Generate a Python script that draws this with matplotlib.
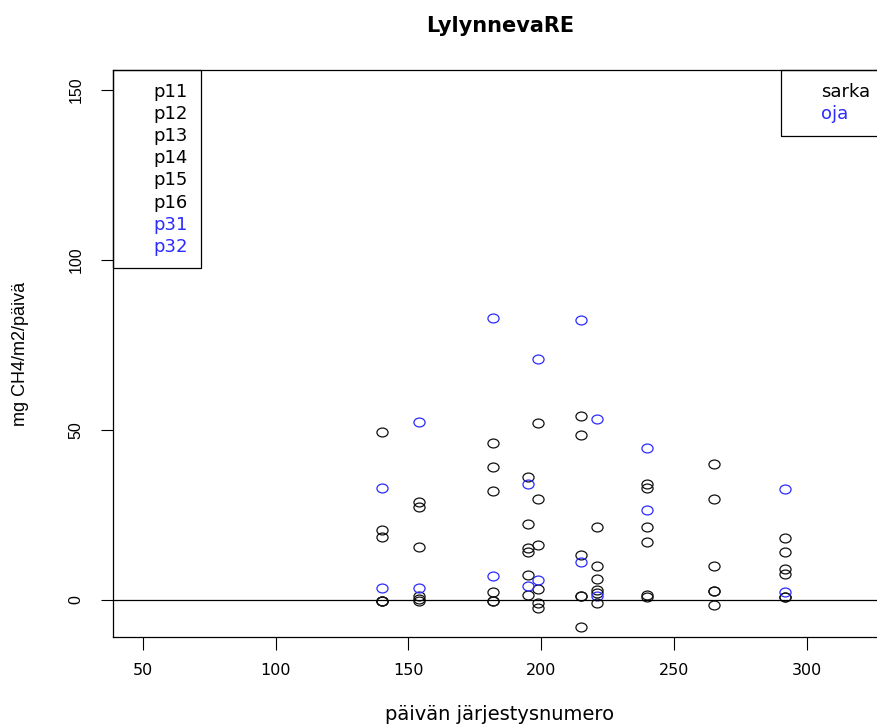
import matplotlib
matplotlib.use("Agg")
import matplotlib.pyplot as plt
from matplotlib.patches import Rectangle
from matplotlib.path import Path
from matplotlib.transforms import Affine2D

plt.rcParams['font.family'] = ['DejaVu Sans']
RSANS = ['Liberation Sans', 'DejaVu Sans']

# measurement days (day of year)
days = [140, 154, 182, 195, 199, 215, 221, 240, 265, 292]

# field plots p11..p16 (black), one list per day
sarka = [
    [49.3, 20.6, 18.4, -0.3, -0.3, -0.3],
    [28.8, 27.3, 15.5, 1.3, 0.3, -0.3],
    [46.3, 39.2, 32.0, 2.4, -0.4, -0.4],
    [36.3, 22.4, 15.3, 14.2, 7.2, 1.4],
    [52.0, 29.8, 16.3, 3.1, -1.0, -2.5],
    [54.2, 48.5, 13.2, 1.3, 1.3, -8.1],
    [21.5, 9.9, 6.2, 2.9, 2.0, -1.0],
    [34.1, 32.8, 21.5, 17.1, 1.5, 1.0],
    [40.0, 29.7, 10.0, 2.7, 2.7, -1.4],
    [18.3, 14.0, 9.0, 7.7, 0.8, 0.8],
]

# ditch plots p31, p32 (blue)
oja = [
    [32.8, 3.4],
    [52.4, 3.4],
    [82.8, 6.9],
    [34.0, 4.2],
    [70.8, 5.8],
    [82.5, 11.1],
    [53.1, 1.2],
    [44.8, 26.5],
    [],
    [32.5, 2.2],
]

plots = ['p11', 'p12', 'p13', 'p14', 'p15', 'p16', 'p31', 'p32']
BLUE = '#2b2bff'
plot_colors = ['black'] * 6 + [BLUE] * 2

# slightly flattened open circle
ring = Path.unit_circle().transformed(Affine2D().scale(1.25, 1.0))

W, H = 878, 725
fig = plt.figure(figsize=(W / 100, H / 100), dpi=100)
ax = fig.add_axes([113 / W, 1 - 637 / H, (916 - 113) / W, (637 - 70) / H])

for d, vals in zip(days, sarka):
    ax.plot([d] * len(vals), vals, ls='none', marker=ring, mfc='none',
            mec='#111111', ms=8, mew=0.9)
for d, vals in zip(days, oja):
    ax.plot([d] * len(vals), vals, ls='none', marker=ring, mfc='none',
            mec=BLUE, ms=8, mew=0.9)

ax.axhline(0, color='black', lw=0.9)

ax.set_xlim(38.8, 341.2)
ax.set_ylim(-10.9, 155.9)
ax.set_xticks([50, 100, 150, 200, 250, 300])
ax.set_yticks([0, 50, 100, 150])
ax.tick_params(length=9, width=0.8)
ax.tick_params(axis='x', pad=10, labelsize=11.5)
ax.tick_params(axis='y', pad=12)
for lab in ax.get_yticklabels():
    lab.set_rotation(90)
    lab.set_va('center')
    lab.set_family(RSANS)
    lab.set_fontsize(11.5)
for s in ax.spines.values():
    s.set_linewidth(0.9)

def px(x, y):
    return x / W, 1 - y / H

# title and axis labels
fig.text(*px(500, 26), 'LylynnevaRE', fontweight='bold', fontsize=15,
         ha='center', va='center')
fig.text(*px(500, 714), 'päivän järjestysnumero', fontsize=14,
         ha='center', va='center')
fig.text(*px(21, 354), 'mg CH4/m2/päivä', family=RSANS, fontsize=13,
         rotation=90, ha='center', va='center')

# legend boxes drawn in pixel coordinates of the figure
x0, y0 = px(113, 268)
x1, y1 = px(201, 70)
fig.add_artist(Rectangle((x0, y0), x1 - x0, y1 - y0, fill=False, lw=0.9,
                         ec='black', transform=fig.transFigure))
for i, (name, c) in enumerate(zip(plots, plot_colors)):
    tx, ty = px(153, 92 + i * 22.1)
    fig.text(tx, ty, name, color=c, fontsize=13, va='center', ha='left')

x0, y0 = px(781, 136)
x1, y1 = px(930, 70)
fig.add_artist(Rectangle((x0, y0), x1 - x0, y1 - y0, fill=False, lw=0.9,
                         ec='black', transform=fig.transFigure))
for i, (name, c) in enumerate(zip(['sarka', 'oja'], ['black', BLUE])):
    tx, ty = px(821, 92 + i * 22)
    fig.text(tx, ty, name, color=c, fontsize=13, va='center', ha='left')

fig.savefig('out.png', dpi=100)
